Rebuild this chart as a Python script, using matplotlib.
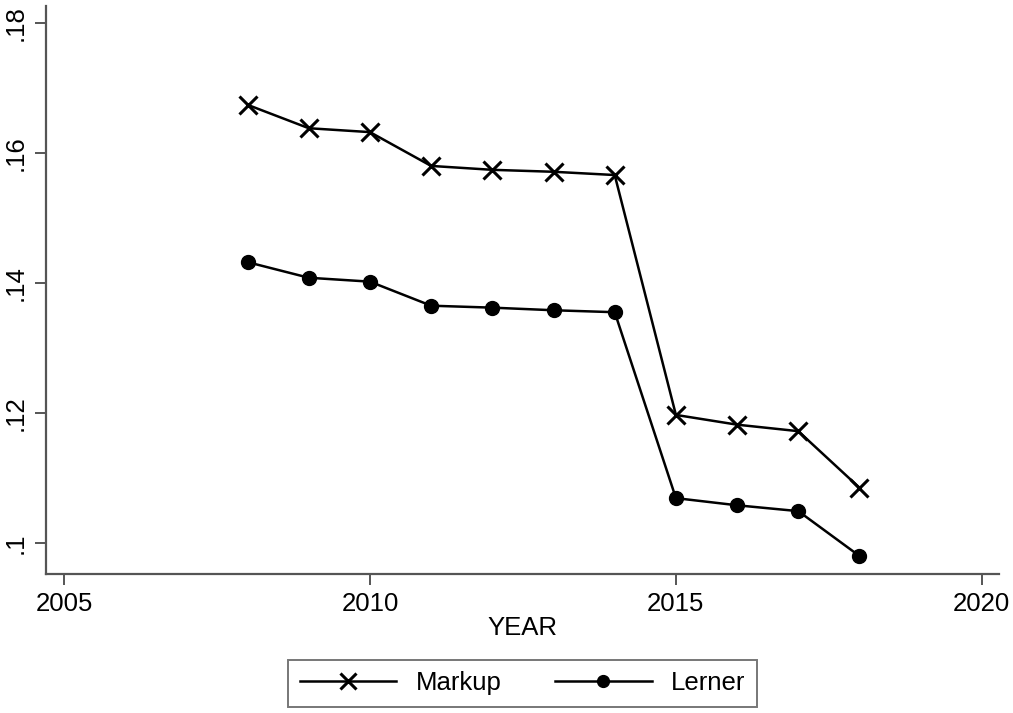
import matplotlib
matplotlib.use("Agg")
import matplotlib.pyplot as plt

plt.rcParams['font.family'] = ['Liberation Sans', 'DejaVu Sans']

years = [2008, 2009, 2010, 2011, 2012, 2013, 2014, 2015, 2016, 2017, 2018]
markup = [0.1674, 0.1638, 0.1632, 0.1580, 0.1574, 0.1571, 0.1566, 0.1197, 0.1182, 0.1172, 0.1085]
lerner = [0.1432, 0.1408, 0.1402, 0.1365, 0.1362, 0.1358, 0.1355, 0.1069, 0.1058, 0.1049, 0.0980]
xticks = [2005, 2010, 2015, 2020]
yticks = [0.10, 0.12, 0.14, 0.16, 0.18]
ytick_labels = ['.1', '.12', '.14', '.16', '.18']

fig = plt.figure(figsize=(10.13, 7.13), dpi=100)
ax = fig.add_axes([46/1013, 1-574/713, (999-46)/1013, (574-6)/713])

ax.plot(years, markup, color='black', lw=1.8, marker='x', ms=13, mew=2.2, label='Markup')
ax.plot(years, lerner, color='black', lw=1.8, marker='o', ms=10, label='Lerner')

ax.set_xlim(2004.706, 2020.28)
ax.set_ylim(0.09523, 0.1826)
ax.set_xticks(xticks)
ax.set_xticklabels([str(x) for x in xticks])
ax.set_yticks(yticks)
ax.set_yticklabels(ytick_labels, rotation=90, va='center')

for s in ['top', 'right']:
    ax.spines[s].set_visible(False)
for s in ['left', 'bottom']:
    ax.spines[s].set_color('#555555')
    ax.spines[s].set_linewidth(1.6)
ax.tick_params(axis='both', direction='out', length=8, width=1.4, color='#555555',
               labelsize=18.5, pad=5)
ax.set_xlabel('YEAR', fontsize=18.5, labelpad=0)

leg = ax.legend(loc='upper center', bbox_to_anchor=(0.5, -0.151), ncol=2, frameon=True,
                fancybox=False, fontsize=18.5, handlelength=3.75, columnspacing=2.1,
                handletextpad=0.75, borderpad=0.45, borderaxespad=0, markerscale=0.85)
leg.get_frame().set_edgecolor('#555555')
leg.get_frame().set_linewidth(1.4)

fig.savefig('out.png', dpi=100)
